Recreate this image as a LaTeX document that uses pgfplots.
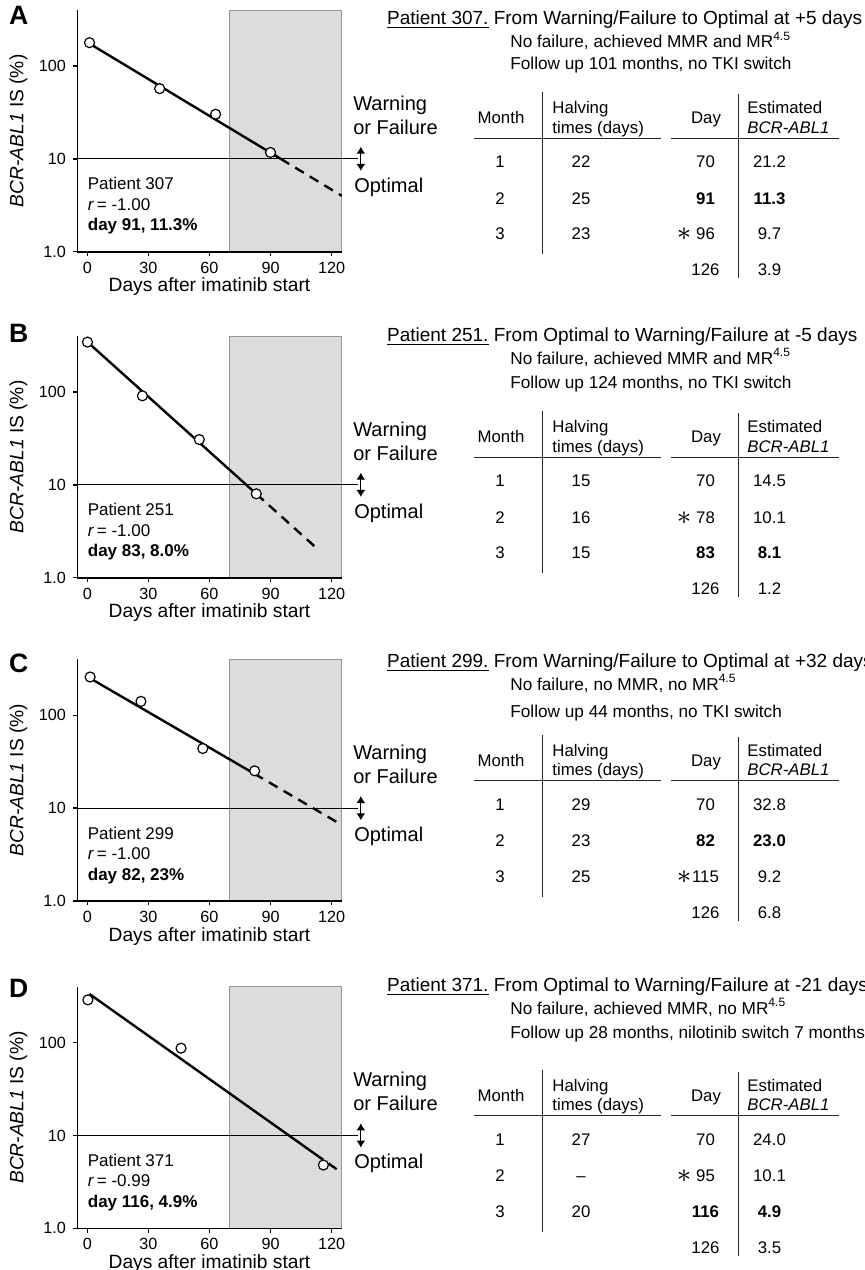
\documentclass[border=0pt]{standalone}
\usepackage{pgfplots}
\pgfplotsset{compat=1.18}
\usepackage{graphicx}
\usepackage{fontspec}
\setmainfont{Liberation Sans}
\usetikzlibrary{arrows.meta}
\definecolor{shade}{RGB}{220,220,220}
\definecolor{shadeedge}{RGB}{150,150,150}

\newcommand\fTitle{\fontsize{9.5}{11}\selectfont}
\newcommand\fSub{\fontsize{8.6}{10}\selectfont}
\newcommand\fTab{\fontsize{8.4}{10}\selectfont}
\newcommand\fLab{\fontsize{9.6}{11}\selectfont}
\newcommand\fTick{\fontsize{8.1}{9.5}\selectfont}
\newcommand\fNote{\fontsize{8.5}{10}\selectfont}
\newcommand\fWarn{\fontsize{10}{12}\selectfont}
\newcommand\st{\raisebox{-0.6pt}{\scalebox{1.7}{$\ast$}}}

\pgfplotsset{/pgf/number format/assume math mode=true}
\pgfplotsset{
  bcrpanel/.style={
    scale only axis, width=132.2pt, height=120.85pt,
    anchor=south west,
    xmin=-5, xmax=125, ymin=1, ymax=400,
    axis x line*=bottom, axis y line*=left,
    axis line style={line width=0.8pt},
    xtick={0,30,60,90,120}, ytick={1,10,100}, yticklabels={1.0,10,100},
    yminorticks=false,
    tick align=outside, major tick length=2.2pt,
    tick style={black, line width=0.7pt},
    tick label style={font=\fTick},
    xticklabel style={yshift=0.6pt},
    clip=false, axis on top,
    xlabel={Days after imatinib start},
    ylabel={\textit{BCR-ABL1} IS (\%)},
    label style={font=\fLab},
    xlabel style={at={(axis description cs:0.5,-0.146)}, anchor=center},
    ylabel style={at={(axis description cs:-0.223,0.5)}, anchor=center},
  },
  fitline/.style={line width=1.2pt, black},
  fitdash/.style={line width=1.2pt, black, dash pattern=on 5pt off 3.5pt},
  obs/.style={only marks, mark=*, mark size=2.5pt, mark options={fill=white, draw=black, line width=0.6pt}},
}

\newcommand\panelcommon{%
  \addplot[fill=shade, draw=shadeedge, line width=0.5pt] coordinates {(70,1) (70,400) (125,400) (125,1) (70,1)};
  \addplot[line width=0.5pt, black] coordinates {(-5,10) (132.8,10)};
  \addplot[line width=0.6pt, black, arrows={Latex[length=3.5pt,width=4.5pt]-Latex[length=3.5pt,width=4.5pt]}] coordinates {(134.4,13.5) (134.4,7.4)};
  \node[anchor=base west, inner sep=0, font=\fWarn] at (axis cs:130.5,33.5) {Warning};
  \node[anchor=base west, inner sep=0, font=\fWarn] at (axis cs:130.5,18.4) {or Failure};
  \node[anchor=base west, inner sep=0, font=\fWarn] at (axis cs:131,4.37) {Optimal};
}
\newcommand\note[3]{%
  \node[anchor=base west, inner sep=0, font=\fNote] at (axis cs:0,4.62) {#1};
  \node[anchor=base west, inner sep=0, font=\fNote] at (axis cs:0,2.79) {\textit{r}\,= #2};
  \node[anchor=base west, inner sep=0, font=\fNote] at (axis cs:0,1.68) {\textbf{#3}};
}

\tikzset{tabtxt/.style={inner sep=0, font=\fTab}}
\newcommand\tabgrid[1]{%
  \draw[line width=0.7pt, black!85] (474,#1) -- (660.5,#1);
  \draw[line width=0.7pt, black!85] (671,#1) -- (839.3,#1);
  \draw[line width=0.7pt, black!85] (542.3,#1-46) -- (542.3,#1+116);
  \draw[line width=0.7pt, black!85] (738.5,#1-44) -- (738.5,#1+140);
  \node[tabtxt, anchor=base] at (501,#1-14.7) {Month};
  \node[tabtxt, anchor=base west] at (552,#1-24.7) {Halving};
  \node[tabtxt, anchor=base west] at (552,#1-5) {times (days)};
  \node[tabtxt, anchor=base] at (706,#1-14.7) {Day};
  \node[tabtxt, anchor=base west] at (747,#1-24.7) {Estimated};
  \node[tabtxt, anchor=base west] at (747,#1-5) {\textit{BCR-ABL1}};
}
\newcommand\trow[6]{%
  \node[tabtxt, anchor=base] at (500,#1) {#2};
  \node[tabtxt, anchor=base] at (581,#1) {#3};
  \node[tabtxt, anchor=base] at (684,#1) {#4};
  \node[tabtxt, anchor=base] at (705.5,#1) {#5};
  \node[tabtxt, anchor=base] at (769.5,#1) {#6};
}
\newcommand\heads[3]{%
  \node[anchor=base west, inner sep=0, font=\fTitle] at (386.7,#1) {\underline{Patient #2.} #3};
}
\newcommand\subs[4]{%
  \node[anchor=base west, inner sep=0, font=\fSub] at (510,#1) {#2};
  \node[anchor=base west, inner sep=0, font=\fSub] at (510,#3) {#4};
}

\begin{document}
\begin{tikzpicture}
\useasboundingbox (0,0) rectangle (432.5pt,-635pt);
\clip (0,0) rectangle (432.5pt,-635pt);

% ---------------- Panel A
\begin{semilogyaxis}[bcrpanel, at={(38.65pt,-125.85pt)}]
  \panelcommon
  \addplot[fitline] coordinates {(1,174) (95,10.0)};
  \addplot[fitdash] coordinates {(95,10.0) (125,4.0)};
  \addplot[obs] coordinates {(1,178) (35.5,57) (63,30.2) (90,11.7)};
  \note{Patient 307}{-1.00}{day 91, 11.3\%}
\end{semilogyaxis}

% ---------------- Panel B
\begin{semilogyaxis}[bcrpanel, at={(38.65pt,-288.85pt)}]
  \panelcommon
  \addplot[fitline] coordinates {(0,345) (83,8.0)};
  \addplot[fitdash] coordinates {(83,8.0) (113,2.05)};
  \addplot[obs] coordinates {(0,344) (27,90.8) (55,30.7) (83,8.0)};
  \note{Patient 251}{-1.00}{day 83, 8.0\%}
\end{semilogyaxis}

% ---------------- Panel C
\begin{semilogyaxis}[bcrpanel, at={(38.65pt,-450.5pt)}]
  \panelcommon
  \addplot[fitline] coordinates {(1.3,250) (82,23.5)};
  \addplot[fitdash] coordinates {(82,23.5) (125,6.6)};
  \addplot[obs] coordinates {(1.3,258) (26.3,141) (56.7,43.8) (82.2,25.2)};
  \note{Patient 299}{-1.00}{day 82, 23\%}
\end{semilogyaxis}

% ---------------- Panel D
\begin{semilogyaxis}[bcrpanel, at={(38.65pt,-614.15pt)}]
  \panelcommon
  \addplot[fitline] coordinates {(1,333) (116,5.45)};
  \addplot[fitdash] coordinates {(118.5,5.0) (125,3.95)};
  \addplot[obs] coordinates {(0.2,288) (46,87) (116,4.8)};
  \note{Patient 371}{-0.99}{day 116, 4.9\%}
\end{semilogyaxis}

\begin{scope}[x=0.5pt,y=-0.5pt]
  \node[font=\bfseries\fontsize{13.3}{14}\selectfont, inner sep=0] at (18.8,15) {A};
  \node[font=\bfseries\fontsize{13.3}{14}\selectfont, inner sep=0] at (18.8,333.3) {B};
  \node[font=\bfseries\fontsize{13.3}{14}\selectfont, inner sep=0] at (18.8,663.3) {C};
  \node[font=\bfseries\fontsize{13.3}{14}\selectfont, inner sep=0] at (18.8,988.3) {D};

  \heads{24.8}{307}{From Warning/Failure to Optimal at +5 days}
  \subs{47.9}{No failure, achieved MMR and MR\textsuperscript{4.5}}{69.5}{Follow up 101 months, no TKI switch}
  \tabgrid{138.3}
  \trow{138.3+29.5}{1}{22}{}{70}{21.2}
  \trow{138.3+65.7}{2}{25}{}{\textbf{91}}{\textbf{11.3}}
  \trow{138.3+101.3}{3}{23}{\st}{96}{9.7}
  \trow{138.3+137.5}{}{}{}{126}{3.9}

  \heads{341.8}{251}{From Optimal to Warning/Failure at -5 days}
  \subs{364.5}{No failure, achieved MMR and MR\textsuperscript{4.5}}{388.5}{Follow up 124 months, no TKI switch}
  \tabgrid{457.3}
  \trow{457.3+29.5}{1}{15}{}{70}{14.5}
  \trow{457.3+65.7}{2}{16}{\st}{78}{10.1}
  \trow{457.3+101.3}{3}{15}{}{\textbf{83}}{\textbf{8.1}}
  \trow{457.3+137.5}{}{}{}{126}{1.2}

  \heads{667.5}{299}{From Warning/Failure to Optimal at +32 days}
  \subs{690.5}{No failure, no MMR, no MR\textsuperscript{4.5}}{717.9}{Follow up 44 months, no TKI switch}
  \tabgrid{780.7}
  \trow{780.7+29.5}{1}{29}{}{70}{32.8}
  \trow{780.7+65.7}{2}{23}{}{\textbf{82}}{\textbf{23.0}}
  \trow{780.7+101.3}{3}{25}{\st}{115}{9.2}
  \trow{780.7+137.5}{}{}{}{126}{6.8}

  \heads{991.8}{371}{From Optimal to Warning/Failure at -21 days}
  \subs{1014.5}{No failure, achieved MMR, no MR\textsuperscript{4.5}}{1038.9}{Follow up 28 months, nilotinib switch 7 months}
  \tabgrid{1115.7}
  \trow{1115.7+29.5}{1}{27}{}{70}{24.0}
  \trow{1115.7+65.7}{2}{--}{\st}{95}{10.1}
  \trow{1115.7+101.3}{3}{20}{}{\textbf{116}}{\textbf{4.9}}
  \trow{1115.7+137.5}{}{}{}{126}{3.5}
\end{scope}
\end{tikzpicture}
\end{document}
